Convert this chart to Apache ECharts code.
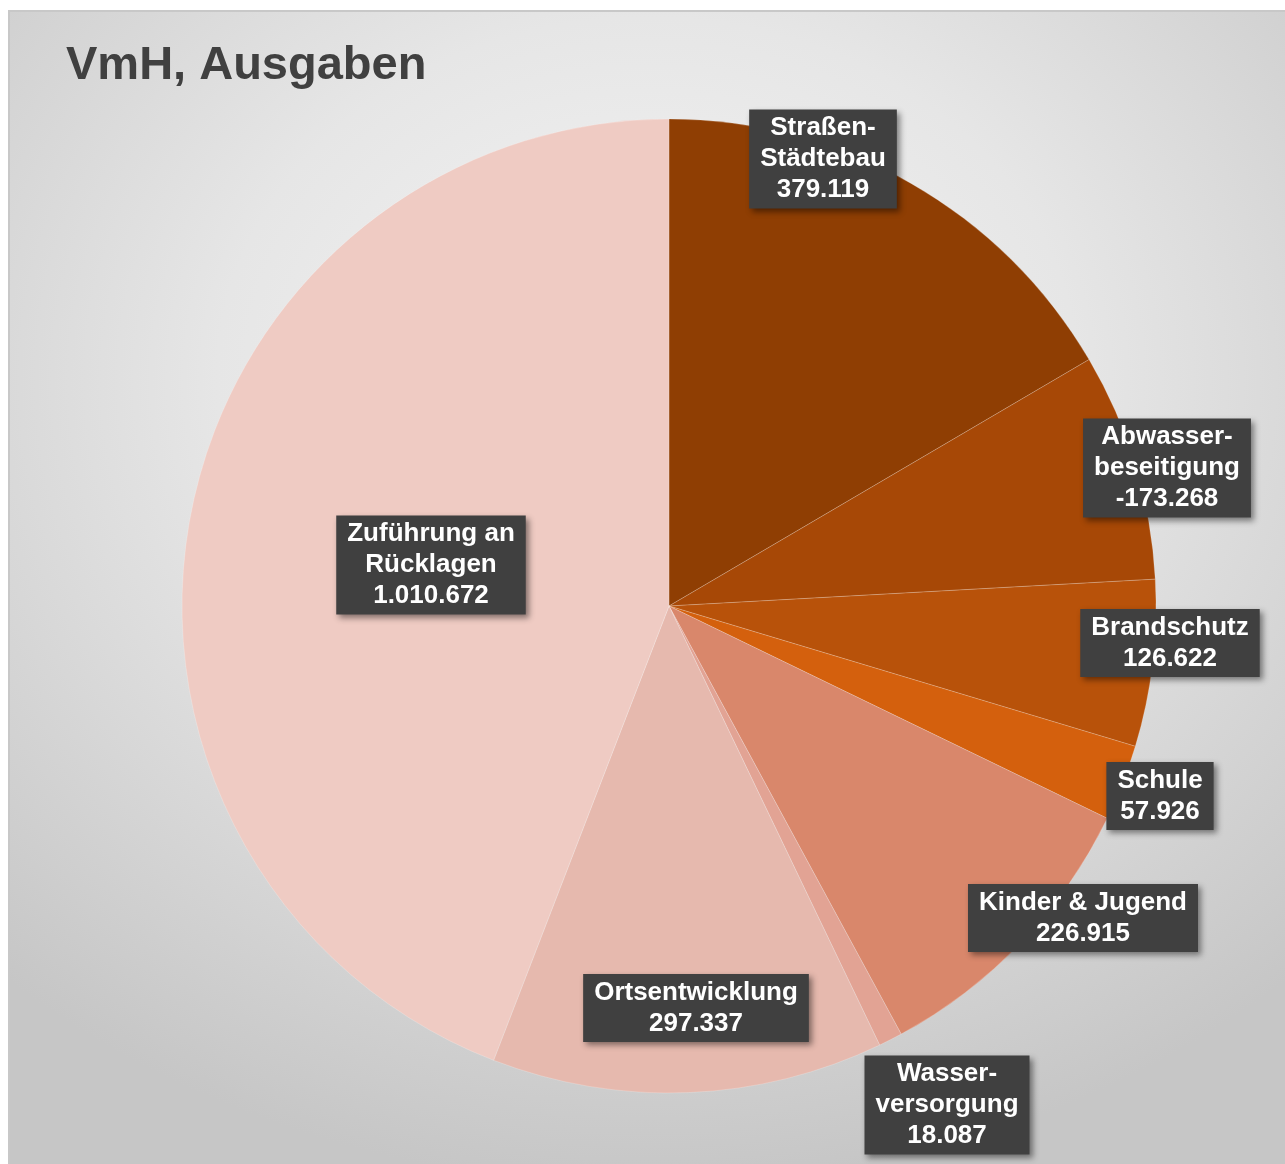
<!DOCTYPE html>
<html>
<head>
<meta charset="utf-8">
<script src="https://cdn.jsdelivr.net/npm/echarts@6/dist/echarts.min.js"></script>
<style>
  html, body { margin: 0; padding: 0; background: #ffffff; }
  #chart {
    position: absolute; left: 8px; top: 10px; width: 1277px; height: 1154px;
    background: radial-gradient(ellipse 75% 70% at 50% 32%, #f5f5f5 0%, #e6e6e6 45%, #c6c6c6 100%);
    border-top: 2px solid #c8c8c8; border-left: 2px solid #c8c8c8;
    box-sizing: border-box;
  }
</style>
</head>
<body>
<div id="chart"></div>
<script>
// Bereiche (Reihenfolge im Uhrzeigersinn ab 12 Uhr)
var names = ['Straßen-\nStädtebau', 'Abwasser-\nbeseitigung', 'Brandschutz', 'Schule',
             'Kinder & Jugend', 'Wasser-\nversorgung', 'Ortsentwicklung', 'Zuführung an\nRücklagen'];
// Beträge wie beschriftet
var values = [379119, -173268, 126622, 57926, 226915, 18087, 297337, 1010672];
var colors = ['#8f3e03', '#a74806', '#b8520a', '#d4600d', '#d9876b', '#e2a394', '#e6b9ae', '#efcbc3'];
// Lage der Beschriftungen relativ zum Kreismittelpunkt
var labelOffsets = [[153, -449], [497, -140], [500, 35], [490, 188], [413, 310], [277, 497], [26, 400], [-239, -43]];

var cx = 659, cy = 594;

function fmt(v) {
	var s = String(Math.abs(v)).replace(/\B(?=(\d{3})+(?!\d))/g, '.');
	return (v < 0 ? '-' : '') + s;
}

var pieData = [];
for (var i = 0; i < names.length; i++) {
	pieData.push({
		name: names[i],
		value: Math.abs(values[i]),
		shown: values[i],
		itemStyle: { color: colors[i] }
	});
}

var myChart = echarts.init(document.getElementById('chart'));
var option = {
	backgroundColor: 'transparent',
	title: {
		text: 'VmH, Ausgaben',
		left: 51,
		top: 26,
		textStyle: {
			fontFamily: '"Liberation Sans", Arial, sans-serif',
			fontSize: 47,
			fontWeight: 'bold',
			color: '#404040'
		}
	},
	series: [{
		type: 'pie',
		center: [cx, cy],
		radius: 487,
		startAngle: 90,
		clockwise: true,
		silent: true,
		animation: false,
		itemStyle: { borderColor: 'rgba(255,255,255,0.2)', borderWidth: 1 },
		label: {
			show: true,
			position: 'inside',
			formatter: function (p) { return p.name + '\n' + fmt(p.data.shown); },
			fontFamily: '"Liberation Sans", Arial, sans-serif',
			fontSize: 26,
			fontWeight: 'bold',
			lineHeight: 31,
			color: '#ffffff',
			align: 'center',
			backgroundColor: '#404040',
			padding: [4, 11, 2, 11],
			shadowColor: 'rgba(0,0,0,0.45)',
			shadowBlur: 6,
			shadowOffsetX: 3,
			shadowOffsetY: 3
		},
		labelLine: { show: false },
		labelLayout: function (params) {
			var o = labelOffsets[params.dataIndex];
			return { x: cx + o[0] + 1, y: cy + o[1] + 2, align: 'center', verticalAlign: 'middle' };
		},
		data: pieData
	}]
};
myChart.setOption(option);
</script>
</body>
</html>
